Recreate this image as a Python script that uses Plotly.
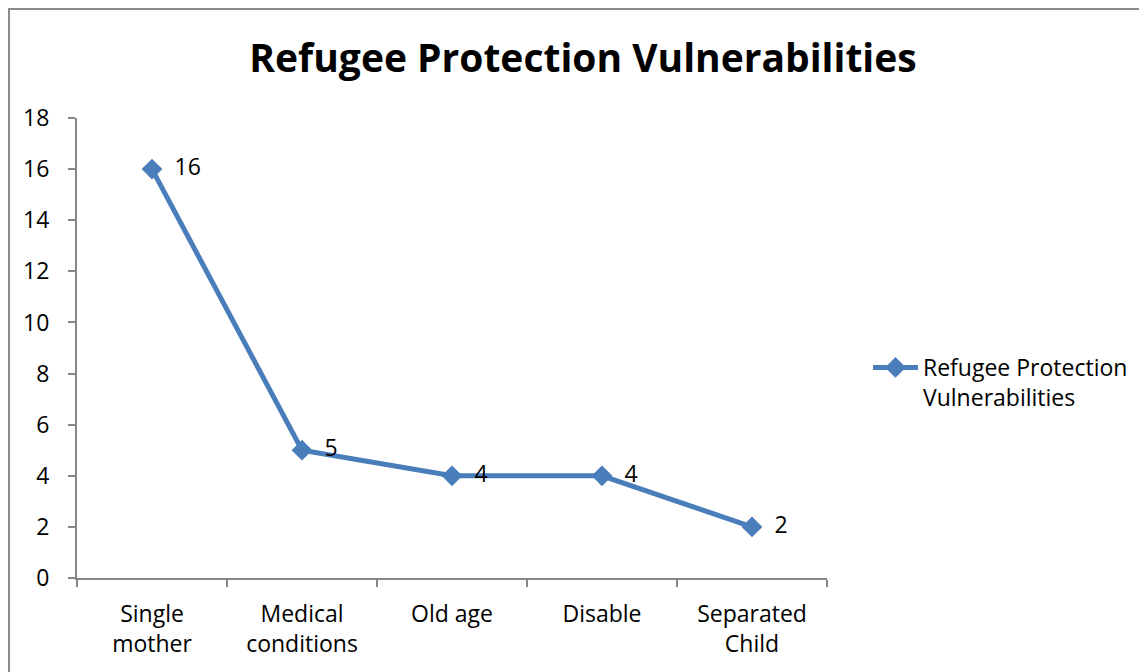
import plotly.graph_objects as go

categories = ["Single<br>mother", "Medical<br>conditions", "Old age", "Disable", "Separated<br>Child"]
values = [16, 5, 4, 4, 2]
series_name = "Refugee Protection<br>Vulnerabilities"
title_text = "Refugee Protection Vulnerabilities"
y_ticks = [0, 2, 4, 6, 8, 10, 12, 14, 16, 18]

W, H = 1147, 672
OFF = 8  # page offset
L, R, T, B = 77 - OFF, 827 - OFF, 118 - OFF, 578 - OFF
pw, ph = R - L, B - T

def px_to_paper_x(x):
    return (x - OFF - L) / pw

def px_to_paper_y(y):
    return (B - (y - OFF)) / ph

color = "#4A7EBB"
font_family = "'Open Sans', Lato, sans-serif"
fs = 23

fig = go.Figure()
fig.add_trace(go.Scatter(
    x=categories, y=values, mode="lines+markers+text",
    name=series_name,
    line=dict(color=color, width=5),
    marker=dict(symbol="diamond", size=16, color=color),
    text=["\u2002" + str(v) for v in values],
    textposition="middle right",
    textfont=dict(size=fs, color="#000000", family=font_family),
    cliponaxis=False,
))

fig.update_layout(
    width=W, height=H,
    margin=dict(l=L, r=W - R, t=T, b=H - B, autoexpand=False),
    paper_bgcolor="white", plot_bgcolor="white",
    font=dict(family=font_family, size=fs, color="#000000"),
    title=dict(text="<b>" + title_text + "</b>", x=px_to_paper_x(583), xref="paper",
               xanchor="center", y=1 - (58 - OFF) / H, yanchor="middle",
               font=dict(size=39, family=font_family, color="#000000")),
    showlegend=True,
    legend=dict(x=px_to_paper_x(868), y=px_to_paper_y(346), xanchor="left", yanchor="top",
                valign="top",
                font=dict(size=fs, family=font_family, color="#000000"),
                bgcolor="rgba(0,0,0,0)", itemwidth=45, tracegroupgap=0),
    xaxis=dict(type="category", range=[-0.5, len(categories) - 0.5], tickson="boundaries",
               showline=True, linecolor="#868686", linewidth=2,
               ticks="outside", ticklen=7, tickcolor="#868686", tickwidth=2,
               ticklabelstandoff=14,
               showgrid=False, zeroline=False,
               tickfont=dict(size=fs, family=font_family, color="#000000")),
    yaxis=dict(range=[0, 18], tickvals=y_ticks, showline=True, linecolor="#868686", linewidth=2,
               ticks="outside", ticklen=7, tickcolor="#868686", tickwidth=2,
               ticklabelstandoff=14,
               showgrid=False, zeroline=False,
               tickfont=dict(size=fs, family=font_family, color="#000000")),
    shapes=[dict(type="rect", xref="paper", yref="paper",
                 x0=px_to_paper_x(9), x1=px_to_paper_x(1175),
                 y0=px_to_paper_y(700), y1=px_to_paper_y(9),
                 line=dict(color="#8C8C8C", width=2), fillcolor="rgba(0,0,0,0)", layer="below")],
)

fig.write_html("out.html")
